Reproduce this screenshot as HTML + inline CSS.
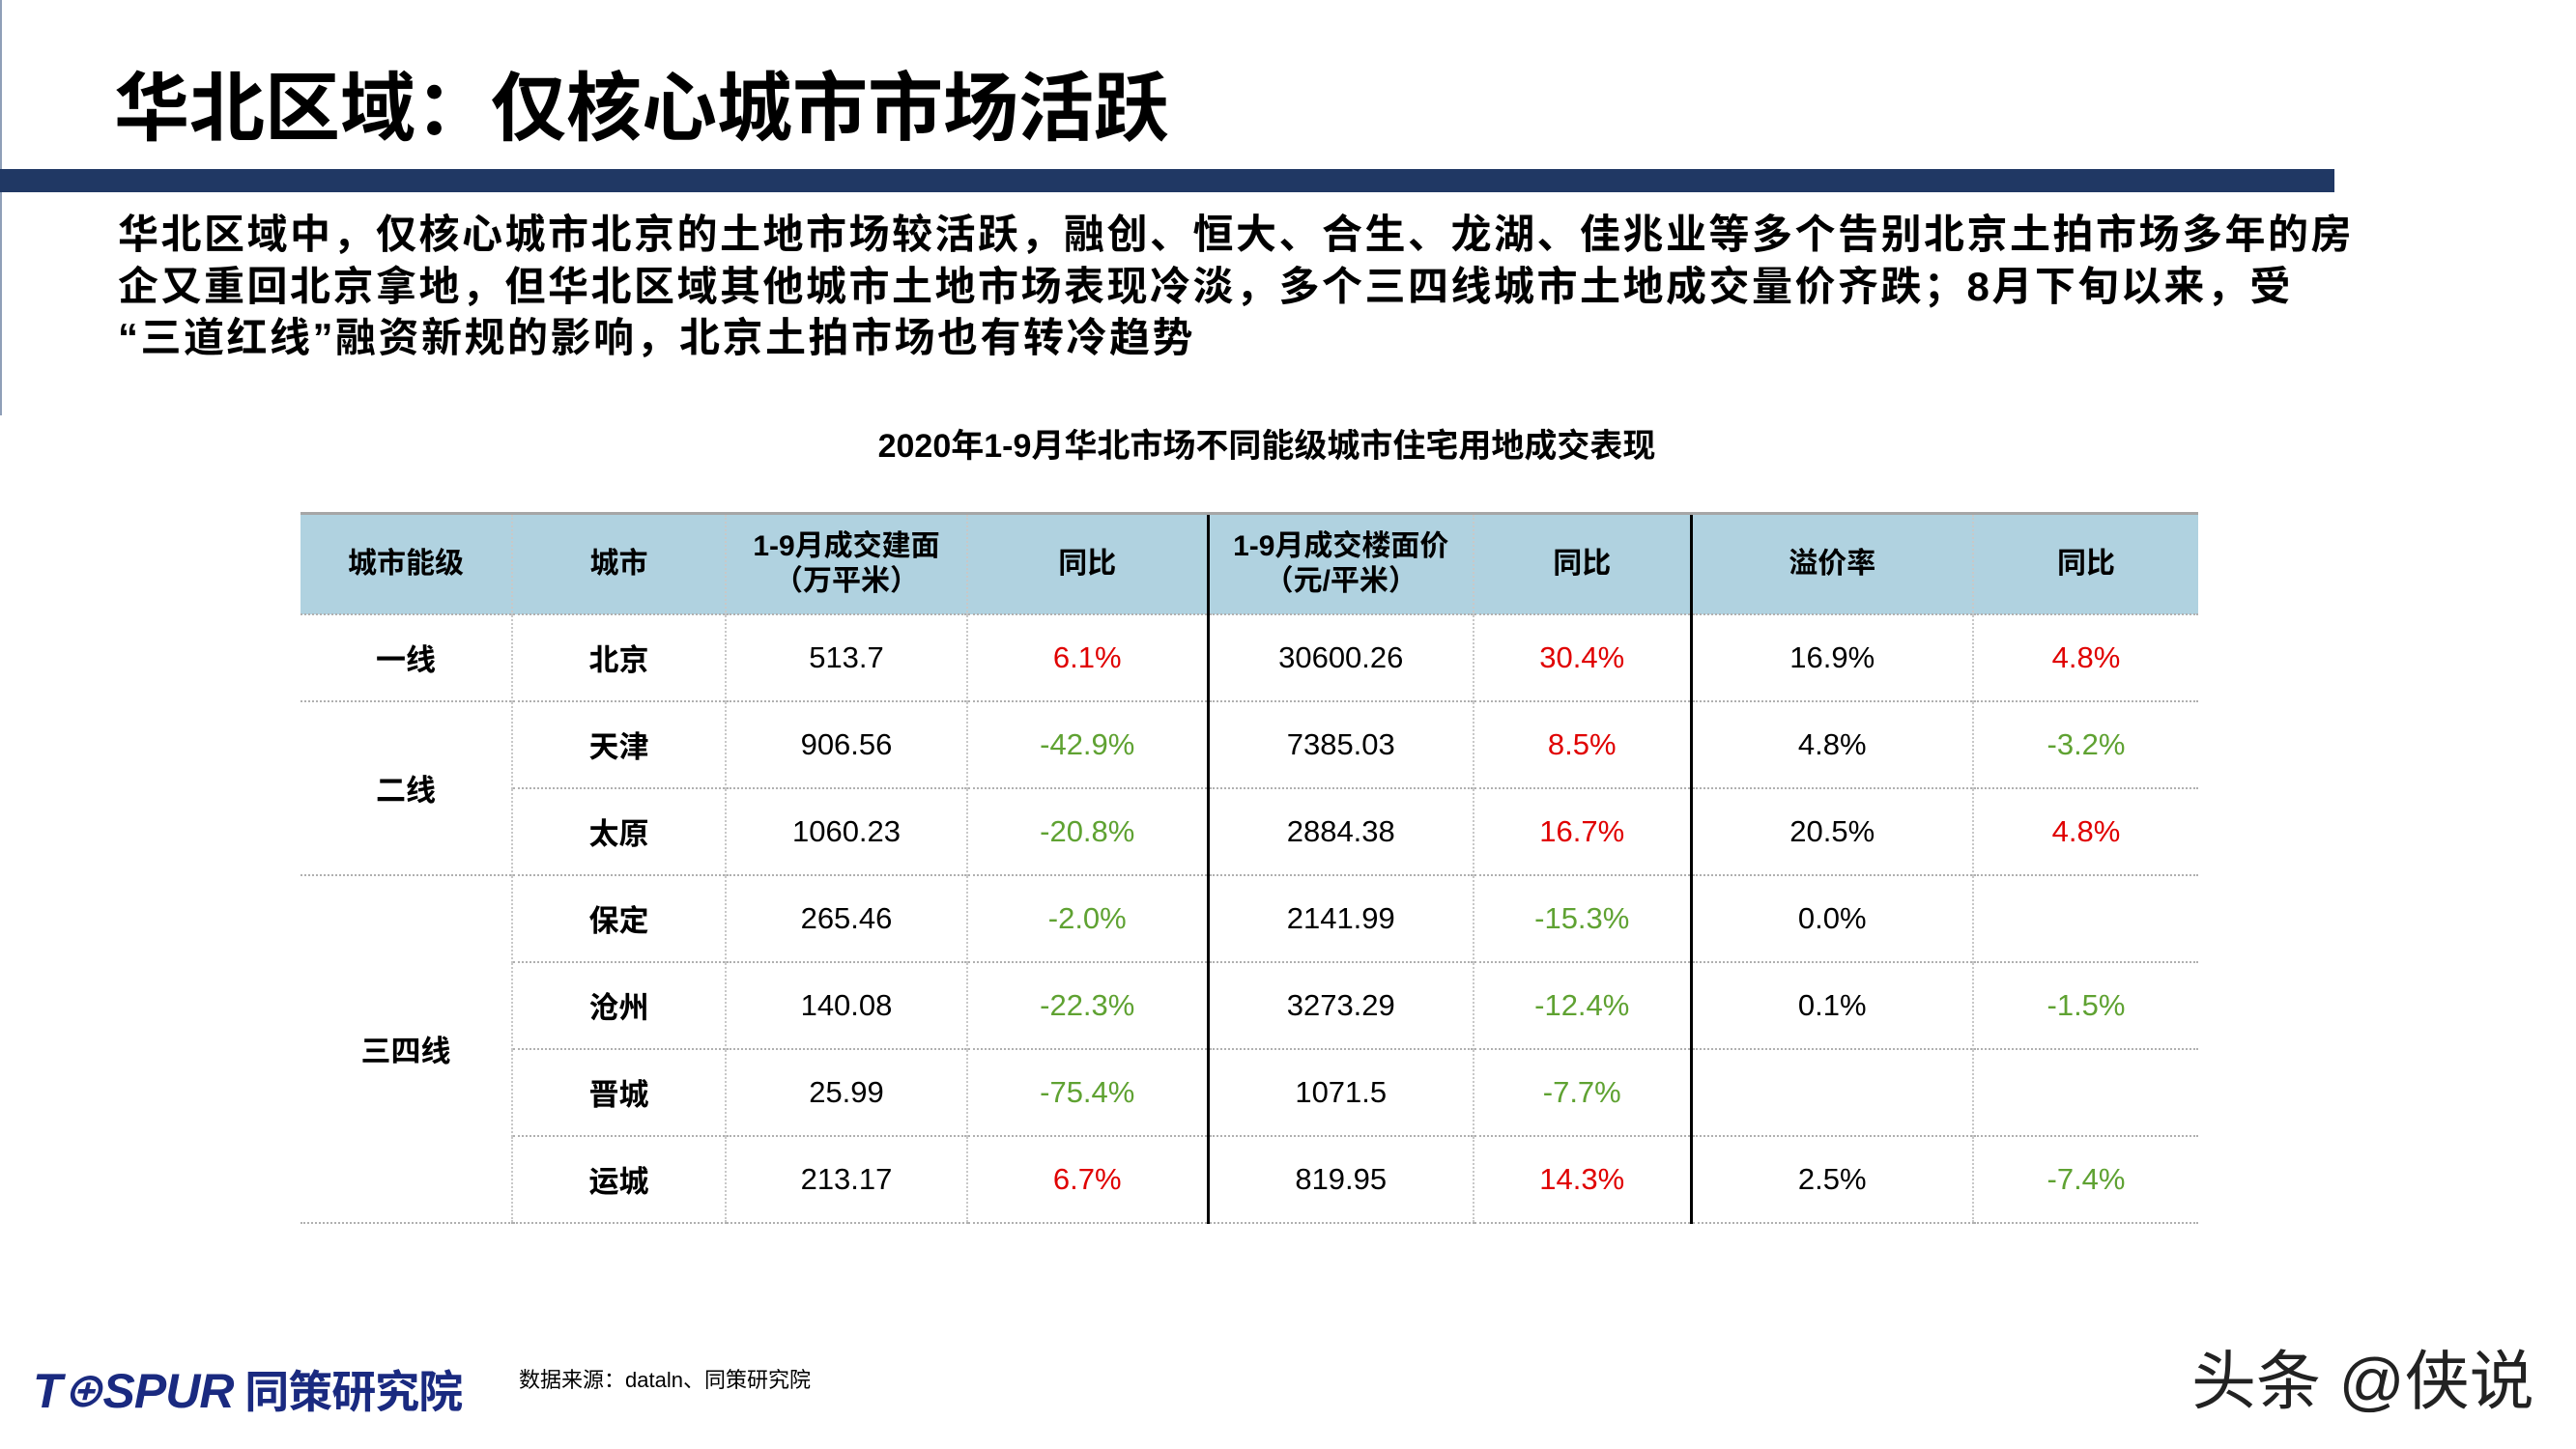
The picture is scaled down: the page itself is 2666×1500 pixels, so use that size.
<!DOCTYPE html>
<html><head><meta charset="utf-8"><style>
*{margin:0;padding:0;box-sizing:border-box}
body{width:2666px;height:1500px;background:#fff;position:relative;overflow:hidden;font-family:"Liberation Sans","Noto Sans CJK SC",sans-serif;color:#000}
.a{position:absolute;white-space:nowrap}
#title{left:118px;top:62px;font-size:78px;font-weight:bold;line-height:100px}
#bar{left:0;top:175px;width:2416px;height:24px;background:#203864}
#vline{left:0;top:0;width:2px;height:430px;background:#8f9fb8}
.p{left:122px;font-size:42px;font-weight:bold;line-height:54px;letter-spacing:2.5px}
#sub{left:0;width:2622px;text-align:center;top:434px;font-size:34px;font-weight:bold}
table{position:absolute;left:311px;top:530px;border-collapse:collapse;table-layout:fixed}
td{text-align:center;vertical-align:middle;font-size:31px;height:90px;border-top:2px dotted #b0b0b0;border-left:2px dotted #c8c8c8;padding:0}
tr.h td{background:#b0d2e0;height:104px;font-weight:bold;font-size:30px;line-height:36px;border-top:3px solid #a6a6a6}
td.f{border-left:none}
td.b{font-weight:bold}
td.k{border-left:3px solid #000}
tr.last td{border-bottom:2px dotted #b0b0b0}
.r{color:#e00000}.g{color:#5fa232}
#src{left:537px;top:1411px;font-size:22px}
#logo{left:34px;top:1405px;font-size:50px;font-weight:bold;font-style:italic;color:#1a2a80;letter-spacing:-1px}
#wm{left:2268px;top:1376px;font-size:67px;color:#222}
</style></head><body>
<div class="a" id="vline"></div>
<div class="a" id="title">华北区域：仅核心城市市场活跃</div>
<div class="a" id="bar"></div>
<div class="a p" style="top:216px">华北区域中，仅核心城市北京的土地市场较活跃，融创、恒大、合生、龙湖、佳兆业等多个告别北京土拍市场多年的房</div>
<div class="a p" style="top:270px">企又重回北京拿地，但华北区域其他城市土地市场表现冷淡，多个三四线城市土地成交量价齐跌；8月下旬以来，受</div>
<div class="a p" style="top:323px">“三道红线”融资新规的影响，北京土拍市场也有转冷趋势</div>
<div class="a" id="sub">2020年1-9月华北市场不同能级城市住宅用地成交表现</div>
<table>
<colgroup><col style="width:219px"><col style="width:221px"><col style="width:250px"><col style="width:249px"><col style="width:275px"><col style="width:225px"><col style="width:292px"><col style="width:233px"></colgroup>
<tr class="h"><td class="f">城市能级</td><td>城市</td><td>1-9月成交建面<br>（万平米）</td><td>同比</td><td class="k">1-9月成交楼面价<br>（元/平米）</td><td>同比</td><td class="k">溢价率</td><td>同比</td></tr>
<tr><td class="f b">一线</td><td class="b">北京</td><td>513.7</td><td class="r">6.1%</td><td class="k">30600.26</td><td class="r">30.4%</td><td class="k">16.9%</td><td class="r">4.8%</td></tr>
<tr><td class="f b" rowspan="2">二线</td><td class="b">天津</td><td>906.56</td><td class="g">-42.9%</td><td class="k">7385.03</td><td class="r">8.5%</td><td class="k">4.8%</td><td class="g">-3.2%</td></tr>
<tr><td class="b">太原</td><td>1060.23</td><td class="g">-20.8%</td><td class="k">2884.38</td><td class="r">16.7%</td><td class="k">20.5%</td><td class="r">4.8%</td></tr>
<tr><td class="f b" rowspan="4" style="border-bottom:2px dotted #b0b0b0">三四线</td><td class="b">保定</td><td>265.46</td><td class="g">-2.0%</td><td class="k">2141.99</td><td class="g">-15.3%</td><td class="k">0.0%</td><td></td></tr>
<tr><td class="b">沧州</td><td>140.08</td><td class="g">-22.3%</td><td class="k">3273.29</td><td class="g">-12.4%</td><td class="k">0.1%</td><td class="g">-1.5%</td></tr>
<tr><td class="b">晋城</td><td>25.99</td><td class="g">-75.4%</td><td class="k">1071.5</td><td class="g">-7.7%</td><td class="k"></td><td></td></tr>
<tr class="last"><td class="b">运城</td><td>213.17</td><td class="r">6.7%</td><td class="k">819.95</td><td class="r">14.3%</td><td class="k">2.5%</td><td class="g">-7.4%</td></tr>
</table>
<div class="a" id="logo">T<span style="font-size:44px">⊕</span>SPUR<span style="font-style:normal;font-size:46px"> 同策研究院</span></div>
<div class="a" id="src">数据来源：dataln、同策研究院</div>
<div class="a" id="wm">头条 @侠说</div>
</body></html>
